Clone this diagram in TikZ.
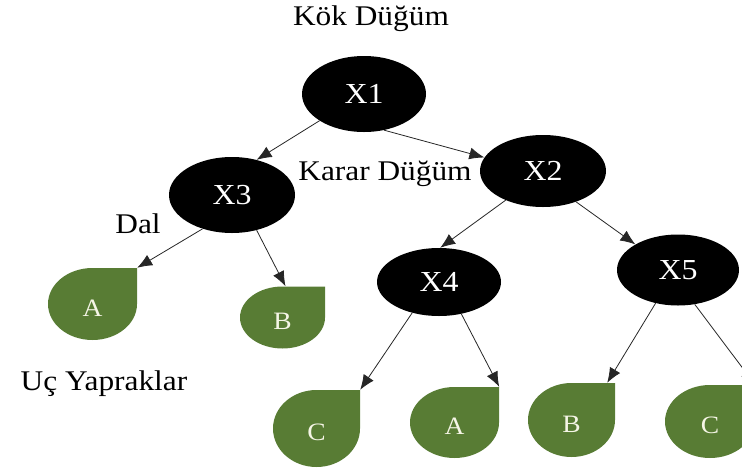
\documentclass[tikz,border=0pt]{standalone}
\usepackage{fontspec}
\setmainfont{Liberation Serif}[FakeStretch=1.1]
\usetikzlibrary{shapes.geometric,arrows.meta}
\definecolor{leafgreen}{RGB}{88,124,52}
\definecolor{leaftext}{RGB}{245,245,230}
\newcommand\dropleaf[6]{%
  \fill[leafgreen] (#2,#3-#5) -- (#2+#4,#3-#5) -- (#2+#4,#3)
    arc[start angle=0,end angle=270,x radius=#4,y radius=#5] -- cycle;
  \node[leaflabel, minimum width=2*#4, minimum height=2*#5] (#1) at (#2,#3) {#6};
}
\tikzset{
  decnode/.style={ellipse, fill=black, text=white, inner sep=0pt,
    font=\fontsize{29}{31}\selectfont},
  leaflabel/.style={rectangle, inner sep=0pt, text=leaftext,
    text height=24pt, text depth=0pt, font=\fontsize{25}{27}\selectfont},
  lbl/.style={inner sep=0pt, text=black, font=\fontsize{28.5}{30}\selectfont},
  conn/.style={draw=black!85, line width=0.8pt, -{Latex[length=15pt,width=12pt]}},
}
\begin{document}
\begin{tikzpicture}[x=1pt,y=-1pt]
\useasboundingbox (0,0) rectangle (742,472);
% decision nodes
\node[decnode, minimum width=124, minimum height=76] (x1) at (364,94) {X1};
\node[decnode, minimum width=126, minimum height=76] (x3) at (232,195) {X3};
\node[decnode, minimum width=126, minimum height=72] (x2) at (543,171) {X2};
\node[decnode, minimum width=124, minimum height=68] (x4) at (439,282) {X4};
\node[decnode, minimum width=122, minimum height=71] (x5) at (678,270) {X5};
% leaves
\dropleaf{a1}{92.5}{304}{44.5}{36}{A}
\dropleaf{b1}{282.5}{317.5}{42.5}{31}{B}
\dropleaf{c1}{316.5}{428.5}{43.5}{38.5}{C}
\dropleaf{a2}{454.5}{422.5}{44.5}{35.5}{A}
\dropleaf{b2}{571.5}{420}{43.5}{37}{B}
\dropleaf{c2}{710}{421.5}{45}{36.5}{C}
% labels
\node[lbl, anchor=base] (kok) at (371,25) {Kök Düğüm};
\node[lbl, anchor=base] (karar) at (385,180) {Karar Düğüm};
\node[lbl, anchor=base] (dal) at (138,233) {Dal};
\node[lbl, anchor=base] (uc) at (104,390) {Uç Yapraklar};
% connectors
\draw[conn] (x1.211) -- (x3.55);
\draw[conn] (x1.299) -- (x2.167);
\draw[conn] (x3.229) -- (a1.north east);
\draw[conn] (x3.305) -- ([xshift=3pt]b1.north);
\draw[conn] (x2.218) -- (x4.88);
\draw[conn] (x2.317) -- (x5.149);
\draw[conn] (x4.229) -- (c1.north east);
\draw[conn] (x4.305) -- (a2.north east);
\draw[conn] (x5.236) -- ([xshift=-8pt]b2.north east);
\draw[conn] (x5.296) -- (c2.north east);
\end{tikzpicture}
\end{document}
